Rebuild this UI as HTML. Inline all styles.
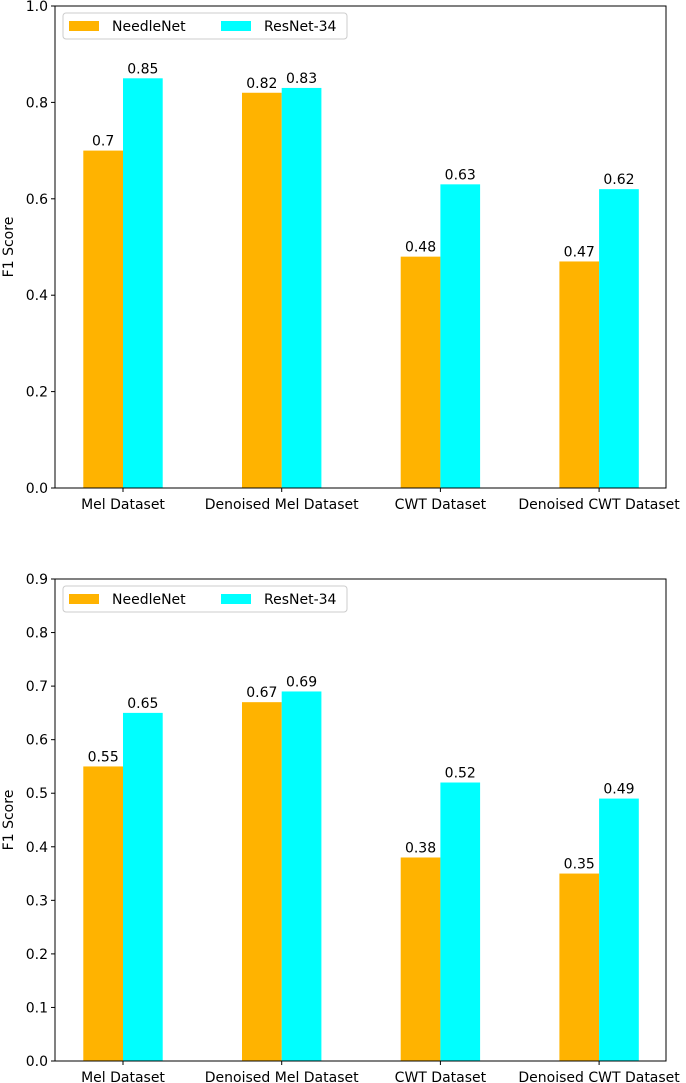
<!DOCTYPE html>
<html><head><meta charset="utf-8"><style>
body{margin:0;background:#fff;}
svg{display:block;font-family:"DejaVu Sans","Liberation Sans",sans-serif;}
</style></head><body>
<svg id="chart" width="686" height="1083"></svg>
<script>
const categories=["Mel Dataset","Denoised Mel Dataset","CWT Dataset","Denoised CWT Dataset"];
const seriesNames=["NeedleNet","ResNet-34"];
const top_needle=[0.7,0.82,0.48,0.47];
const top_resnet=[0.85,0.83,0.63,0.62];
const bot_needle=[0.55,0.67,0.38,0.35];
const bot_resnet=[0.65,0.69,0.52,0.49];
const topTicks=["0.0","0.2","0.4","0.6","0.8","1.0"];
const botTicks=["0.0","0.1","0.2","0.3","0.4","0.5","0.6","0.7","0.8","0.9"];
const colors=["#FFB300","#00FFFF"];
const NS="http://www.w3.org/2000/svg";
const svg=document.getElementById('chart');
const FS=14;
function mk(tag,attrs,parent,text){const e=document.createElementNS(NS,tag);for(const k in attrs)e.setAttribute(k,attrs[k]);if(text!==undefined)e.textContent=text;(parent||svg).appendChild(e);return e;}
function drawChart(id,top,bottom,ymax,ticks,s1,s2){
  const g=mk('g',{});
  
  
  const L=55,R=666;
  const y=v=>bottom-(v/ymax)*(bottom-top);
  const step=158.7, x0=123;
  const x=i=>x0+i*step;
  const bw=39.7;
  [s1,s2].forEach((s,si)=>{
    s.forEach((v,i)=>{
      const bx=si===0?x(i)-bw:x(i);
      const r=mk('rect',{x:bx,y:y(v),width:bw,height:bottom-y(v),fill:colors[si]},g);
      
      
      const t=mk('text',{x:bx+bw/2,y:y(v)-5,'text-anchor':'middle','font-size':FS,fill:'#000'},g,String(v));
      
      
    });
  });
  const ax=mk('rect',{x:L,y:top,width:R-L,height:bottom-top,fill:'none',stroke:'#000','stroke-width':1},g);
  
  
  ticks.forEach(tk=>{
    const v=parseFloat(tk),yy=y(v);
    mk('line',{x1:L-4,x2:L,y1:yy,y2:yy,stroke:'#000'},g);
    const t=mk('text',{x:L-7,y:yy+5,'text-anchor':'end','font-size':FS},g,tk);
    
    
  });
  categories.forEach((c,i)=>{
    mk('line',{x1:x(i),x2:x(i),y1:bottom,y2:bottom+4,stroke:'#000'},g);
    const t=mk('text',{x:x(i),y:bottom+21,'text-anchor':'middle','font-size':FS},g,c);
    
    
  });
  const yl=mk('text',{x:0,y:0,transform:`translate(13,${(top+bottom)/2}) rotate(-90)`,'text-anchor':'middle','font-size':FS},g,'F1 Score');
  
  
  const lg=mk('g',{},g);
  
  
  const ly=top+7;
  mk('rect',{x:63,y:ly,width:284,height:26,rx:3,fill:'#fff',stroke:'#ccc'},lg);
  [69,221].forEach((sx,si)=>{
    mk('rect',{x:sx,y:ly+8,width:30,height:10,fill:colors[si]},lg);
    const t=mk('text',{x:sx+43,y:ly+18,'font-size':FS},lg,seriesNames[si]);
    
    
  });
}
drawChart('top-chart',6,488,1.0,topTicks,top_needle,top_resnet);
drawChart('bottom-chart',579,1061,0.9,botTicks,bot_needle,bot_resnet);
</script>
</body></html>
